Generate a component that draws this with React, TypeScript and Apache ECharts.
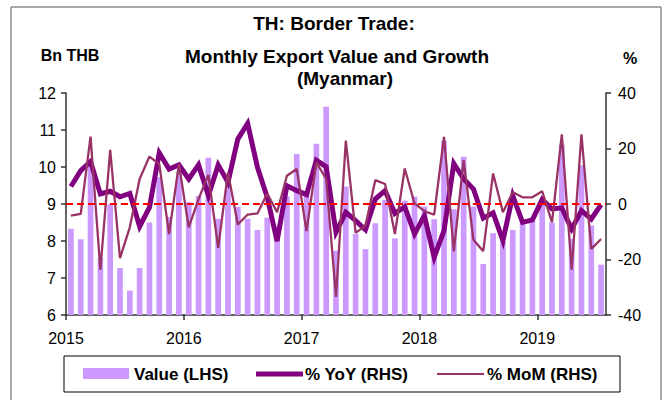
import React, { useEffect, useRef } from "react";
import * as echarts from "echarts";

const yearLabels = ["2015", "2016", "2017", "2018", "2019"];
const monthNames = ["Jan", "Feb", "Mar", "Apr", "May", "Jun", "Jul", "Aug", "Sep", "Oct", "Nov", "Dec"];
const monthCount = 55;
const categories: string[] = [];
for (let i = 0; i < monthCount; i++) {
  categories.push(monthNames[i % 12] + "-" + yearLabels[Math.floor(i / 12)]);
}

// Export value, Bn THB (LHS)
const valueLHS = [
  8.33, 8.05, 10.05, 7.55, 9.0, 7.27, 6.66, 7.27, 8.5, 9.72, 8.65, 9.85,
  9.05, 9.22, 10.25, 8.6, 9.62, 8.92, 8.6, 8.3, 8.63, 8.4, 9.2, 10.35,
  9.33, 10.63, 11.63, 7.74, 9.47, 8.19, 7.78, 8.48, 9.11, 8.07, 9.09, 9.2,
  8.93, 8.59, 10.71, 8.86, 10.28, 8.93, 7.38, 8.21, 7.97, 8.3, 8.48, 8.55,
  9.02, 8.49, 10.6, 8.06, 10.05, 8.42, 7.36,
];

// % YoY (RHS)
const yoy = [
  6.3, 12, 15.3, 3.6, 4.6, 2.6, 3.8, -8.1, -1.2, 18.4, 12.6, 14.1,
  9, 14.1, 3, 14.1, 7.8, 23.4, 29, 13.2, 2.4, -13.4, 6.6, 4.8,
  3.4, 15.8, 13.4, -10.2, -3, -6, -9.3, 1.8, 4.8, -3.4, -1, -10.8,
  -4.2, -19.2, -9.6, 14.6, 9, 5.4, -5.1, -3.2, -13.2, 3, -6.6, -5.7,
  1.6, -1.8, -1.4, -9, -2.4, -5.4, -0.2,
];

// % MoM (RHS)
const mom = [
  -4.2, -3.6, 24.3, -23.7, 19.5, -19.5, -8.4, 9, 17.1, 14.4, -10.8, 14.4,
  -8.4, 1.8, 10.5, -15.8, 11.4, -7.4, -3.8, -3.4, 3.8, -3, 10.2, 12.6,
  -9.8, 15, 9, -33.5, 22.8, -10.4, -7.8, 8.6, 7.2, -10.8, 12.8, 0.2,
  -2.6, -3.8, 24.2, -17.1, 15.8, -12.9, -17, 11, -3, 4.2, 2.4, 2.4,
  4.6, -6.6, 25.1, -23.7, 25.1, -16.2, -12.6,
];

const yearTickPositions = yearLabels.map((_, k) => k * 12);

const FONT = 'Arial, "Liberation Sans", sans-serif';

export default function App() {
  const ref = useRef<HTMLDivElement>(null);
  useEffect(() => {
    if (!ref.current) return;
    const chart = echarts.init(ref.current, undefined, { renderer: "svg" });
    const axisLineStyle = { color: "#333", width: 1.5 };
    chart.setOption({
      animation: false,
      backgroundColor: "#fff",
      textStyle: { fontFamily: FONT },
      grid: { left: 66, right: 61, top: 93, bottom: 85 },
      xAxis: [
        {
          type: "category",
          data: categories,
          boundaryGap: true,
          show: false,
        },
        {
          type: "value",
          min: 0,
          max: monthCount,
          position: "bottom",
          axisLine: { show: true, lineStyle: axisLineStyle, onZero: false },
          axisTick: { show: true, length: 5, lineStyle: axisLineStyle, customValues: yearTickPositions },
          axisLabel: {
            customValues: yearTickPositions,
            formatter: (v: number) => yearLabels[Math.round(v / 12)] ?? "",
            fontSize: 16,
            color: "#000",
            margin: 15,
            fontFamily: FONT,
          },
          splitLine: { show: false },
        },
      ],
      yAxis: [
        {
          type: "value",
          min: 6,
          max: 12,
          interval: 1,
          position: "left",
          axisLine: { show: true, lineStyle: axisLineStyle },
          axisTick: { show: true, length: 5, lineStyle: axisLineStyle },
          axisLabel: { fontSize: 16, color: "#000", margin: 10, fontFamily: FONT },
          splitLine: { show: false },
        },
        {
          type: "value",
          min: -40,
          max: 40,
          interval: 20,
          position: "right",
          axisLine: { show: true, lineStyle: axisLineStyle },
          axisTick: { show: true, length: 5, lineStyle: axisLineStyle },
          axisLabel: { fontSize: 16, color: "#000", margin: 12, fontFamily: FONT },
          splitLine: { show: false },
        },
      ],
      series: [
        {
          name: "Value (LHS)",
          type: "bar",
          xAxisIndex: 0,
          yAxisIndex: 0,
          data: valueLHS,
          barWidth: "58%",
          itemStyle: { color: "#CC99FF" },
        },
        {
          name: "Zero",
          type: "line",
          xAxisIndex: 0,
          yAxisIndex: 1,
          data: [],
          markLine: {
            silent: true,
            symbol: "none",
            label: { show: false },
            lineStyle: { color: "#FF0000", type: [7, 4], width: 2 },
            data: [{ yAxis: 0 }],
          },
        },
        {
          name: "% YoY (RHS)",
          type: "line",
          xAxisIndex: 0,
          yAxisIndex: 1,
          data: yoy,
          symbol: "none",
          lineStyle: { color: "#800080", width: 5, join: "miter" },
          itemStyle: { color: "#800080" },
        },
        {
          name: "% MoM (RHS)",
          type: "line",
          xAxisIndex: 0,
          yAxisIndex: 1,
          data: mom,
          symbol: "none",
          lineStyle: { color: "#993366", width: 2.3 },
          itemStyle: { color: "#993366" },
        },
      ],
      graphic: [
        {
          type: "rect",
          shape: { x: 11, y: 7, width: 650, height: 400 },
          style: { fill: "none", stroke: "#555", lineWidth: 1 },
          silent: true,
        },
        {
          type: "text",
          x: 334,
          y: 23,
          style: { text: "TH: Border Trade:", font: `bold 19px ${FONT}`, fill: "#000", align: "center", verticalAlign: "middle" },
        },
        {
          type: "text",
          x: 337,
          y: 56,
          style: { text: "Monthly Export Value and Growth", font: `bold 19px ${FONT}`, fill: "#000", align: "center", verticalAlign: "middle" },
        },
        {
          type: "text",
          x: 345,
          y: 78,
          style: { text: "(Myanmar)", font: `bold 19px ${FONT}`, fill: "#000", align: "center", verticalAlign: "middle" },
        },
        {
          type: "text",
          x: 70,
          y: 55,
          style: { text: "Bn THB", font: `bold 16px ${FONT}`, fill: "#000", align: "center", verticalAlign: "middle" },
        },
        {
          type: "text",
          x: 630,
          y: 58,
          style: { text: "%", font: `bold 16px ${FONT}`, fill: "#000", align: "center", verticalAlign: "middle" },
        },
        {
          type: "rect",
          shape: { x: 64, y: 356, width: 556, height: 36 },
          style: { fill: "#fff", stroke: "#000", lineWidth: 1 },
        },
        {
          type: "rect",
          shape: { x: 83, y: 368, width: 46, height: 11 },
          style: { fill: "#CC99FF" },
        },
        {
          type: "text",
          x: 134,
          y: 374,
          style: { text: "Value (LHS)", font: `bold 17px ${FONT}`, fill: "#000", align: "left", verticalAlign: "middle" },
        },
        {
          type: "line",
          shape: { x1: 256, y1: 374, x2: 303, y2: 374 },
          style: { stroke: "#800080", lineWidth: 5 },
        },
        {
          type: "text",
          x: 305,
          y: 374,
          style: { text: "% YoY (RHS)", font: `bold 17px ${FONT}`, fill: "#000", align: "left", verticalAlign: "middle" },
        },
        {
          type: "line",
          shape: { x1: 437, y1: 374, x2: 484, y2: 374 },
          style: { stroke: "#993366", lineWidth: 2 },
        },
        {
          type: "text",
          x: 487,
          y: 374,
          style: { text: "% MoM (RHS)", font: `bold 17px ${FONT}`, fill: "#000", align: "left", verticalAlign: "middle" },
        },
      ],
    });
    return () => chart.dispose();
  }, []);
  return <div ref={ref} style={{ position: "absolute", left: 0, top: 0, width: 667, height: 400 }} />;
}
